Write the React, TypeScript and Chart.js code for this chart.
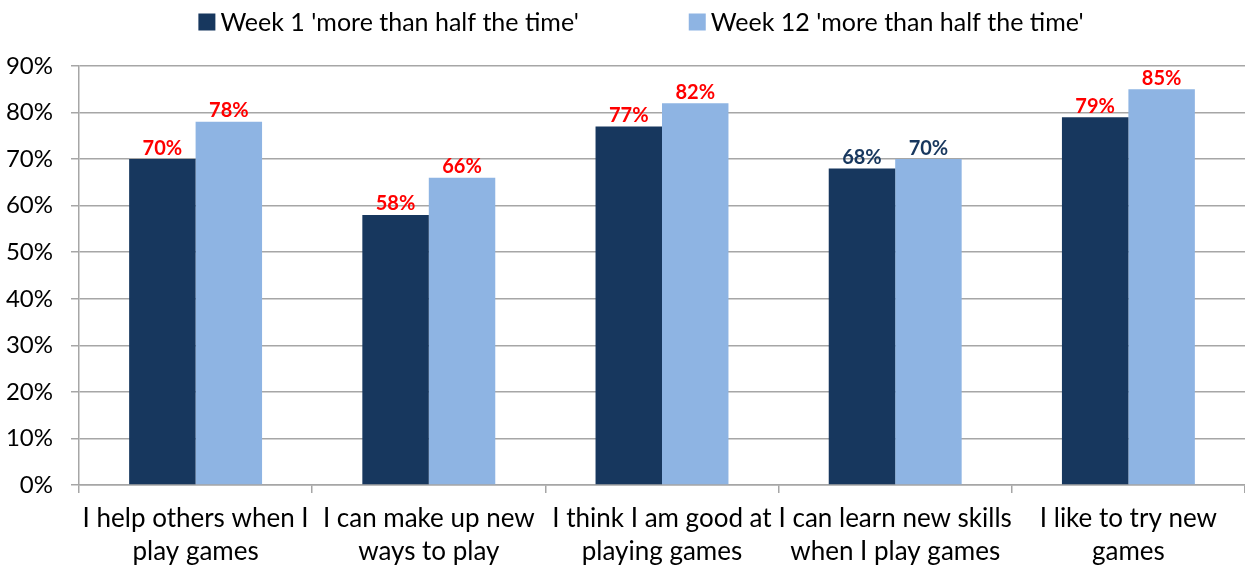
import React, { useEffect, useRef } from "react";
import { Chart, registerables } from "chart.js";

Chart.register(...registerables);

const categories: string[][] = [
  ["I help others when I", "play games"],
  ["I can make up new", "ways to play"],
  ["I think I am good at", "playing games"],
  ["I can learn new skills", "when I play games"],
  ["I like to try new", "games"],
];
const seriesNames = ["Week 1 'more than half the time'", "Week 12 'more than half the time'"];
const week1 = [70, 58, 77, 68, 79];
const week12 = [78, 66, 82, 70, 85];
const week1LabelColors = ["#FF0000", "#FF0000", "#FF0000", "#17375E", "#FF0000"];
const week12LabelColors = ["#FF0000", "#FF0000", "#FF0000", "#17375E", "#FF0000"];
const yTicks = [0, 10, 20, 30, 40, 50, 60, 70, 80, 90];

const DARK = "#17375E";
const LIGHT = "#8EB4E3";
const GRID = "#A6A6A6";
const FONT = "Lato, 'Noto Sans', sans-serif";

const valueLabels = {
  id: "valueLabels",
  afterDatasetsDraw(chart: any) {
    const ctx = chart.ctx;
    ctx.save();
    ctx.font = `bold 20px ${FONT}`;
    ctx.textAlign = "center";
    ctx.textBaseline = "bottom";
    chart.data.datasets.forEach((ds: any, di: number) => {
      const meta = chart.getDatasetMeta(di);
      meta.data.forEach((el: any, i: number) => {
        ctx.fillStyle = ds.labelColors[i];
        ctx.fillText(`${ds.data[i]}%`, el.x, el.y - 1);
      });
    });
    ctx.restore();
  },
};

const customLegend = {
  id: "customLegend",
  afterDraw(chart: any) {
    const ctx = chart.ctx;
    ctx.save();
    ctx.font = `25px ${FONT}`;
    ctx.textBaseline = "middle";
    ctx.textAlign = "left";
    const items = chart.data.datasets.map((ds: any) => ({ text: ds.label, color: ds.backgroundColor }));
    const box = 17;
    const gap = 5;
    const spacing = 110;
    const widths = items.map((it: any) => box + gap + ctx.measureText(it.text).width);
    const total = widths.reduce((a: number, b: number) => a + b, 0) + spacing * (items.length - 1);
    let x = 641 - total / 2;
    const cy = 22;
    items.forEach((it: any, i: number) => {
      ctx.fillStyle = it.color;
      ctx.fillRect(x, cy - box / 2, box, box);
      ctx.fillStyle = "#000000";
      ctx.fillText(it.text, x + box + gap, cy + 1);
      x += widths[i] + spacing;
    });
    ctx.restore();
  },
};

export default function App() {
  const ref = useRef<HTMLCanvasElement | null>(null);
  useEffect(() => {
    if (!ref.current) return;
    const chart = new Chart(ref.current, {
      type: "bar",
      data: {
        labels: categories,
        datasets: [
          { label: seriesNames[0], data: week1, backgroundColor: DARK, labelColors: week1LabelColors } as any,
          { label: seriesNames[1], data: week12, backgroundColor: LIGHT, labelColors: week12LabelColors } as any,
        ],
      },
      options: {
        animation: false,
        responsive: false,
        maintainAspectRatio: false,
        layout: { padding: { top: 66, left: 0, right: 0, bottom: 0 } },
        plugins: { legend: { display: false }, tooltip: { enabled: false } },
        datasets: { bar: { categoryPercentage: 0.57, barPercentage: 1 } },
        scales: {
          x: {
            grid: { drawOnChartArea: false, drawTicks: true, tickLength: 8, color: GRID, lineWidth: 1.5 },
            border: { color: GRID, width: 1.5 },
            ticks: { color: "#000000", font: { family: FONT, size: 26, lineHeight: 1.28 }, padding: 9, maxRotation: 0, autoSkip: false },
            afterFit(scale: any) { scale.height = 83; },
          },
          y: {
            min: 0,
            max: 90,
            afterBuildTicks(scale: any) { scale.ticks = yTicks.map((v) => ({ value: v })); },
            grid: { color: GRID, lineWidth: 1.5, tickLength: 8 },
            border: { color: GRID, width: 1.5 },
            ticks: { color: "#000000", font: { family: FONT, size: 24 }, padding: 18, callback: (v: any) => `${v}%` },
            afterFit(scale: any) { scale.width = 79; },
          },
        },
      },
      plugins: [valueLabels, customLegend],
    });
    return () => chart.destroy();
  }, []);
  return (
    <div style={{ position: "absolute", left: 0, top: 0, width: 1245, height: 568, background: "#fff" }}>
      <canvas ref={ref} width={1245} height={568} style={{ display: "block" }} />
    </div>
  );
}
